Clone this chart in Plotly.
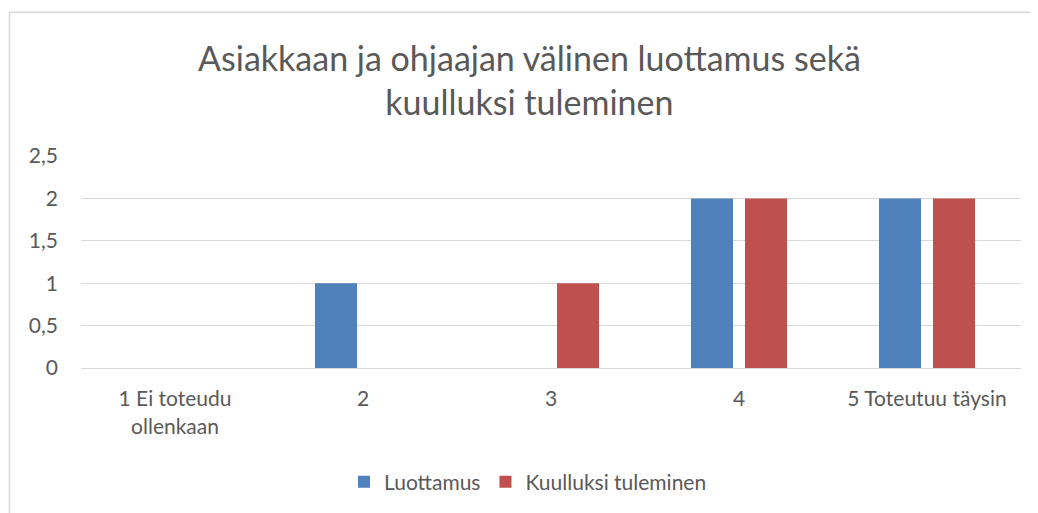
import plotly.graph_objects as go

categories = ["1 Ei toteudu<br>ollenkaan", "2", "3", "4", "5 Toteutuu täysin"]
luottamus = [0, 1, 0, 2, 2]
kuulluksi = [0, 0, 1, 2, 2]
series_names = ["Luottamus", "Kuulluksi tuleminen"]
title_text = "Asiakkaan ja ohjaajan välinen luottamus sekä<br>kuulluksi tuleminen"
y_ticks = [0, 0.5, 1, 1.5, 2, 2.5]

# page body has an 8px margin, so the figure starts at (8, 8) of the window
OFF = 8
W, H = 1038 - OFF, 513 - OFF
L, R, T, B = 81 - OFF, 17, 156 - OFF, 144
pw, ph = W - L - R, H - T - B

def px_x(x):
    return (x - OFF - L) / pw

def px_y(y):
    return (H - B - (y - OFF)) / ph

FONT = "Lato"
GREY = "#595959"

fig = go.Figure()
fig.add_trace(go.Bar(name=series_names[0], x=categories, y=luottamus,
                     marker=dict(color="#4F81BD", line=dict(width=0))))
fig.add_trace(go.Bar(name=series_names[1], x=categories, y=kuulluksi,
                     marker=dict(color="#C0504D", line=dict(width=0))))

fig.update_layout(
    width=W, height=H,
    margin=dict(l=L, r=R, t=T, b=B, pad=0),
    paper_bgcolor="white", plot_bgcolor="white",
    separators=", ",
    barmode="group", bargap=0.4255, bargroupgap=0.222,
    font=dict(family=FONT, size=21, color=GREY),
    showlegend=True,
    legend=dict(orientation="h", x=px_x(528), xanchor="center",
                y=px_y(482), yanchor="middle",
                font=dict(family=FONT, size=21, color=GREY),
                itemwidth=30, traceorder="normal"),
    xaxis=dict(showgrid=False, showline=True, linecolor="#d9d9d9", linewidth=1,
               ticks="", tickfont=dict(family=FONT, size=21, color=GREY),
               ticklabelstandoff=12, fixedrange=True),
    yaxis=dict(range=[0, 2.5], tickvals=y_ticks, showgrid=True,
               gridcolor="#d9d9d9", gridwidth=1, zeroline=False,
               showline=False, ticks="",
               tickfont=dict(family=FONT, size=21, color=GREY),
               ticklabelstandoff=22, fixedrange=True),
)

fig.add_annotation(text=title_text, xref="paper", yref="paper",
                   x=px_x(529), y=px_y(79), xanchor="center", yanchor="middle",
                   showarrow=False,
                   font=dict(family=FONT, size=34, color=GREY))

fig.add_shape(type="rect", xref="paper", yref="paper",
              x0=px_x(9.5), x1=px_x(1100), y0=px_y(600), y1=px_y(11.5),
              line=dict(color="#d9d9d9", width=1.5), fillcolor="rgba(0,0,0,0)",
              layer="below")

fig.write_html("out.html")
